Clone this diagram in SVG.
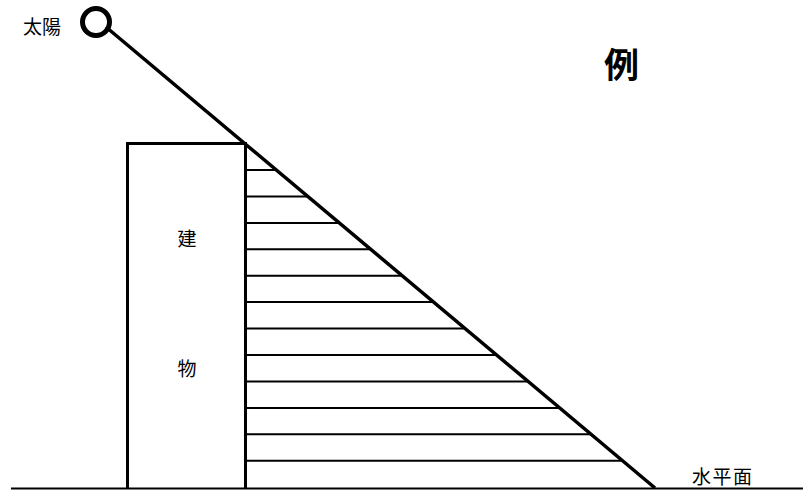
<svg xmlns="http://www.w3.org/2000/svg" width="803" height="490" viewBox="0 0 803 490">
<style>
text{font-family:"Noto Sans CJK JP","Noto Sans CJK SC",sans-serif;fill:#000}
.lbl{font-size:19px}
.hatch line{stroke:#000;stroke-width:2}
</style>
<rect width="803" height="490" fill="#fff"/>
<g id="sun">
<circle cx="96" cy="22" r="13.5" fill="none" stroke="#000" stroke-width="5"/>
<text class="lbl" x="23" y="34">太陽</text>
</g>
<g id="title"><text x="621.5" y="78" font-size="35" font-weight="bold" text-anchor="middle">例</text></g>
<g id="building">
<path d="M127.5,488 V143.5 H245.5 V488" fill="none" stroke="#000" stroke-width="3"/>
<text class="lbl" x="187" y="246" font-size="21" text-anchor="middle">建</text>
<text class="lbl" x="187" y="376" font-size="21" text-anchor="middle">物</text>
</g>
<g id="shadow" class="hatch">
<line x1="245" y1="170" x2="276.3" y2="170"/>
<line x1="245" y1="196.4" x2="307.7" y2="196.4"/>
<line x1="245" y1="222.9" x2="339.3" y2="222.9"/>
<line x1="245" y1="249.3" x2="370.7" y2="249.3"/>
<line x1="245" y1="275.7" x2="402.2" y2="275.7"/>
<line x1="245" y1="302.1" x2="433.6" y2="302.1"/>
<line x1="245" y1="328.6" x2="465.2" y2="328.6"/>
<line x1="245" y1="355" x2="496.6" y2="355"/>
<line x1="245" y1="381.4" x2="528.1" y2="381.4"/>
<line x1="245" y1="407.9" x2="559.6" y2="407.9"/>
<line x1="245" y1="434.3" x2="591.1" y2="434.3"/>
<line x1="245" y1="460.7" x2="622.5" y2="460.7"/>
</g>
<g id="connectors">
<line id="ray" x1="106" y1="27" x2="655" y2="488" stroke="#000" stroke-width="3.5"/>
<line id="ground" x1="11" y1="488.5" x2="803" y2="488.5" stroke="#000" stroke-width="2"/>
</g>
<g id="horizon-label"><text class="lbl" x="692" y="484" letter-spacing="1.5">水平面</text></g>
</svg>
